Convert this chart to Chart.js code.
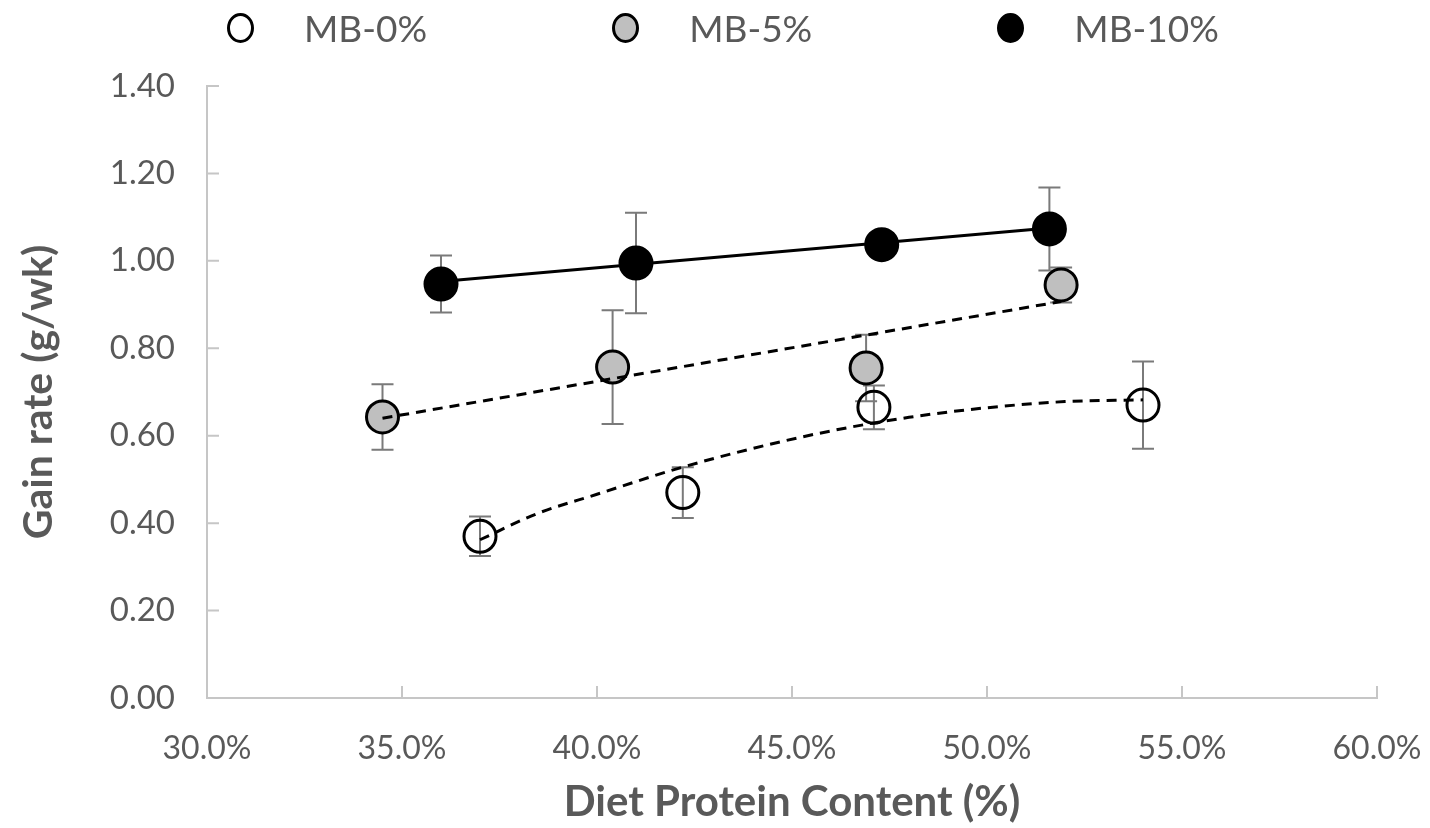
<!DOCTYPE html>
<html>
<head>
<meta charset="utf-8">
<script src="https://cdn.jsdelivr.net/npm/chart.js@4.4.1/dist/chart.umd.min.js"></script>
<style>
  body { margin: 0; background: #fff; }
  #wrap { position: relative; width: 1430px; height: 828px; }
  #legend { position: absolute; top: 5px; left: 227px; display: flex; align-items: center;
            font-family: Lato, "Open Sans", sans-serif; font-size: 37px; color: #595959; }
  .item { display: flex; align-items: center; margin-right: 185px; }
  .dot { width: 21px; height: 24px; border: 3px solid #000; border-radius: 50%; margin-right: 50px; }
</style>
</head>
<body>
<div id="wrap">
  <canvas id="chart" width="1430" height="828"></canvas>
  <div id="legend"></div>
</div>
<script>
// ---------------- DATA ----------------
const xTicks = [30, 35, 40, 45, 50, 55, 60];
const yTicks = [0, 0.2, 0.4, 0.6, 0.8, 1.0, 1.2, 1.4];

const seriesNames = ["MB-0%", "MB-5%", "MB-10%"];

const mb0X = [37.0, 42.2, 47.1, 54.0];
const mb0Y = [0.370, 0.470, 0.665, 0.670];
const mb0Err = [0.045, 0.058, 0.050, 0.100];

const mb5X = [34.5, 40.4, 46.9, 51.9];
const mb5Y = [0.643, 0.757, 0.755, 0.945];
const mb5Err = [0.075, 0.130, 0.076, 0.040];

const mb10X = [36.0, 41.0, 47.3, 51.6];
const mb10Y = [0.947, 0.995, 1.037, 1.073];
const mb10Err = [0.065, 0.115, 0.020, 0.095];

// trend lines
const trend0X = [37.0, 38.5, 40.0, 42.0, 44.0, 46.0, 48.0, 50.0, 52.0, 54.0];
const trend0Y = [0.362, 0.423, 0.466, 0.523, 0.571, 0.611, 0.642, 0.664, 0.678, 0.682];
const trend5X = [34.5, 51.9];
const trend5Y = [0.640, 0.907];
const trend10X = [36.0, 51.6];
const trend10Y = [0.953, 1.075];

// ---------------- HELPERS ----------------
const grey = "#595959";
const axisGrey = "#c6c6c6";

function pts(xs, ys) {
    return xs.map((x, i) => ({ x, y: ys[i] }));
}

function markerSet(label, xs, ys, errs, fill) {
    return {
        label,
        data: pts(xs, ys),
        errors: errs,
        backgroundColor: fill,
        borderColor: "#000",
        borderWidth: 3,
        pointRadius: 16,
        pointHoverRadius: 16,
        order: 2
    };
}

function trendSet(xs, ys, dash, curved) {
    return {
        label: "trend",
        trend: true,
        data: pts(xs, ys),
        showLine: true,
        borderColor: "#000",
        borderWidth: 3,
        borderDash: dash,
        pointRadius: 0,
        cubicInterpolationMode: curved ? "monotone" : "default",
        order: 1
    };
}

// ---------------- PLUGINS ----------------
// error bars, drawn under the markers
const errorBars = {
    id: "errorBars",
    beforeDatasetsDraw(chart) {
        const { ctx, scales: { x, y } } = chart;
        ctx.save();
        ctx.strokeStyle = "#7a7a7a";
        ctx.lineWidth = 2;
        chart.data.datasets.forEach(ds => {
            if (!ds.errors) return;
            ds.data.forEach((p, i) => {
                const e = ds.errors[i];
                const px = x.getPixelForValue(p.x);
                const top = y.getPixelForValue(p.y + e);
                const bot = y.getPixelForValue(p.y - e);
                ctx.beginPath();
                ctx.moveTo(px, top); ctx.lineTo(px, bot);
                ctx.moveTo(px - 11, top); ctx.lineTo(px + 11, top);
                ctx.moveTo(px - 11, bot); ctx.lineTo(px + 11, bot);
                ctx.stroke();
            });
        });
        ctx.restore();
    }
};

// tick marks pointing inward, like the original
const innerTicks = {
    id: "innerTicks",
    afterDraw(chart) {
        const { ctx, chartArea, scales: { x, y } } = chart;
        ctx.save();
        ctx.strokeStyle = axisGrey;
        ctx.lineWidth = 2;
        ctx.beginPath();
        x.ticks.forEach(t => {
            const px = x.getPixelForValue(t.value);
            ctx.moveTo(px, chartArea.bottom);
            ctx.lineTo(px, chartArea.bottom - 12);
        });
        y.ticks.forEach(t => {
            const py = y.getPixelForValue(t.value);
            ctx.moveTo(chartArea.left, py);
            ctx.lineTo(chartArea.left + 12, py);
        });
        ctx.stroke();
        ctx.restore();
    }
};

// html legend built from the datasets
const htmlLegend = {
    id: "htmlLegend",
    afterUpdate(chart) {
        const box = document.getElementById("legend");
        box.innerHTML = "";
        chart.data.datasets.filter(ds => !ds.trend).forEach(ds => {
            const item = document.createElement("div");
            item.className = "item";
            const dot = document.createElement("span");
            dot.className = "dot";
            dot.style.background = ds.backgroundColor;
            const txt = document.createElement("span");
            txt.textContent = ds.label;
            item.appendChild(dot);
            item.appendChild(txt);
            box.appendChild(item);
        });
    }
};

// ---------------- CHART ----------------
const ctx = document.getElementById("chart");

new Chart(ctx, {
    type: "scatter",
    data: {
        datasets: [
            markerSet(seriesNames[0], mb0X, mb0Y, mb0Err, "rgba(255,255,255,0)"),
            markerSet(seriesNames[1], mb5X, mb5Y, mb5Err, "#bfbfbf"),
            markerSet(seriesNames[2], mb10X, mb10Y, mb10Err, "#000"),
            trendSet(trend0X, trend0Y, [10, 7], true),
            trendSet(trend5X, trend5Y, [10, 7], false),
            trendSet(trend10X, trend10Y, [], false)
        ]
    },
    options: {
        responsive: false,
        animation: false,
        layout: { padding: { left: 0, right: 53, top: 86, bottom: 0 } },
        plugins: {
            legend: { display: false },
            tooltip: { enabled: false }
        },
        scales: {
            x: {
                type: "linear",
                min: xTicks[0],
                max: xTicks[xTicks.length - 1],
                afterBuildTicks: s => { s.ticks = xTicks.map(v => ({ value: v })); },
                afterFit: s => { s.height = 130; s.paddingRight = 0; s.paddingLeft = 0; },
                ticks: {
                    callback: v => v.toFixed(1) + "%",
                    color: grey,
                    font: { family: "Lato", size: 32 },
                    padding: 31,
                    maxRotation: 0
                },
                grid: { display: false, drawTicks: false },
                border: { color: axisGrey, width: 2 },
                title: {
                    display: true,
                    text: "Diet Protein Content (%)",
                    color: grey,
                    font: { family: "Lato", size: 42, weight: "bold" },
                    padding: { top: 0, bottom: 0 }
                }
            },
            y: {
                min: yTicks[0],
                max: yTicks[yTicks.length - 1],
                afterBuildTicks: s => { s.ticks = yTicks.map(v => ({ value: v })); },
                afterFit: s => { s.width = 207; },
                ticks: {
                    callback: v => v.toFixed(2),
                    color: grey,
                    font: { family: "Lato", size: 33 },
                    padding: 32
                },
                grid: { display: false, drawTicks: false },
                border: { color: axisGrey, width: 2 },
                title: {
                    display: true,
                    text: "Gain rate (g/wk)",
                    color: grey,
                    font: { family: "Lato", size: 41, weight: "bold" },
                    padding: { top: 14, bottom: 0 }
                }
            }
        }
    },
    plugins: [errorBars, innerTicks, htmlLegend]
});
</script>
</body>
</html>
